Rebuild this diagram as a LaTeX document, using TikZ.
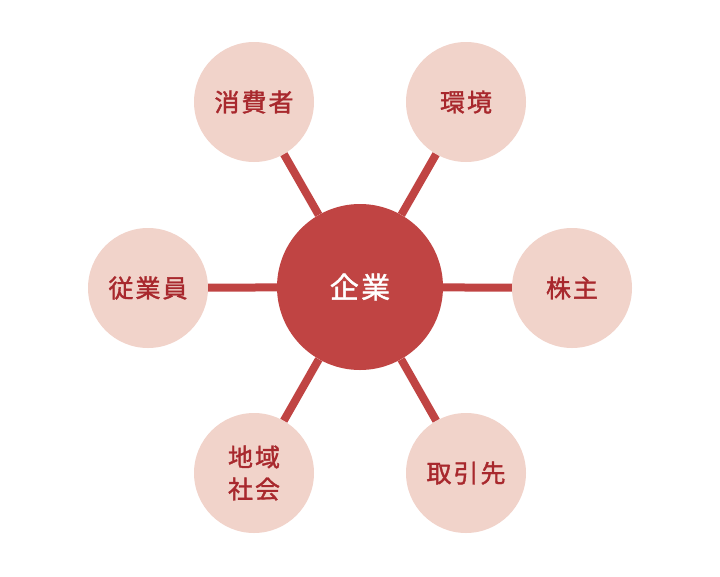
\documentclass[tikz,border=0pt]{standalone}
\usepackage{fontspec}
\newfontfamily\jp[AutoFakeBold=1.5,LetterSpace=8]{Noto Sans CJK JP}
\definecolor{kigyo}{HTML}{C04443}
\definecolor{pink}{HTML}{F1D3CA}
\definecolor{moji}{HTML}{A8282D}
\begin{document}
\begin{tikzpicture}[x=1pt,y=-1pt,
		outer/.style={circle, fill=pink, minimum size=120pt, inner sep=0pt, text=moji, font=\jp\bfseries\fontsize{25}{32}\selectfont, align=center},
		center/.style={circle, fill=kigyo, minimum size=166pt, inner sep=0pt, text=white, font=\jp\bfseries\fontsize{29}{34}\selectfont},
		link/.style={kigyo, line width=8pt}]
		\useasboundingbox (0,0) rectangle (720,576);
		\node [center] (kigyo) at (360,287) {企業};
		\node [outer] (shohisha) at (254,102) {消費者};
		\node [outer] (kankyo) at (466,102) {環境};
		\node [outer] (kabunushi) at (572,288) {株主};
		\node [outer] (torihiki) at (466,473) {取引先};
		\node [outer] (chiiki) at (254,473) {地域\\社会};
		\node [outer] (jugyoin) at (148,288) {従業員};
		\draw [link] (kigyo) -- (shohisha);
		\draw [link] (kigyo) -- (kankyo);
		\draw [link] (kigyo) -- (kabunushi);
		\draw [link] (kigyo) -- (torihiki);
		\draw [link] (kigyo) -- (chiiki);
		\draw [link] (kigyo) -- (jugyoin);
	\end{tikzpicture}
\end{document}
